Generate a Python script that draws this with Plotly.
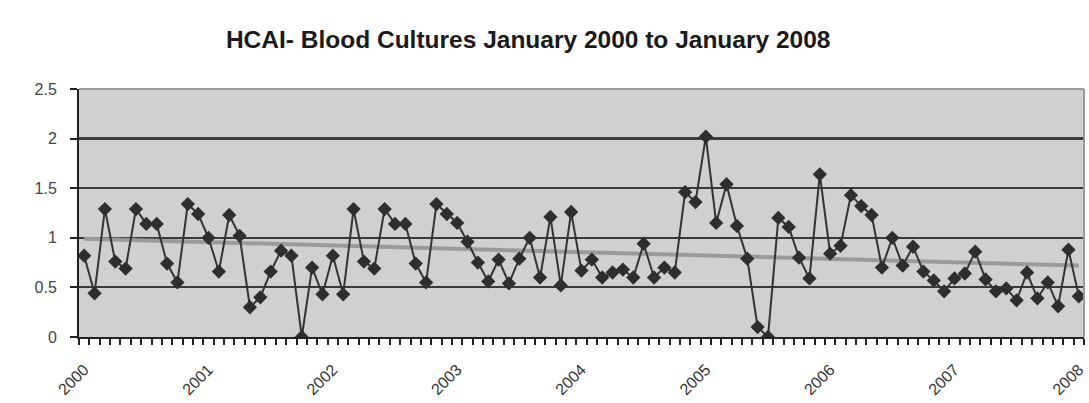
import plotly.graph_objects as go

# Monthly rate, January 2000 to January 2008 (97 months)
years = ["2000", "2001", "2002", "2003", "2004", "2005", "2006", "2007", "2008"]
rate = [
    0.82, 0.44, 1.29, 0.76, 0.69, 1.29, 1.14, 1.14, 0.74, 0.55, 1.34, 1.24,   # 2000
    1.00, 0.66, 1.23, 1.02, 0.30, 0.40, 0.66, 0.87, 0.82, 0.00, 0.70, 0.43,   # 2001
    0.82, 0.43, 1.29, 0.76, 0.69, 1.29, 1.14, 1.14, 0.74, 0.55, 1.34, 1.24,   # 2002
    1.15, 0.96, 0.75, 0.56, 0.78, 0.54, 0.79, 1.00, 0.60, 1.21, 0.52, 1.26,   # 2003
    0.67, 0.78, 0.60, 0.65, 0.68, 0.60, 0.94, 0.60, 0.70, 0.65, 1.46, 1.36,   # 2004
    2.02, 1.15, 1.54, 1.12, 0.79, 0.10, 0.00, 1.20, 1.11, 0.80, 0.59, 1.64,   # 2005
    0.84, 0.92, 1.43, 1.32, 1.23, 0.70, 1.00, 0.72, 0.91, 0.66, 0.57, 0.46,   # 2006
    0.59, 0.64, 0.86, 0.58, 0.46, 0.49, 0.37, 0.65, 0.39, 0.55, 0.31, 0.88,   # 2007
    0.41,                                                                     # 2008
]

# Linear trend, first and last month
trend_ends = [0.99, 0.72]

idx = list(range(len(rate)))

fig = go.Figure()
fig.add_trace(go.Scatter(
    x=[idx[0], idx[-1]], y=trend_ends, mode="lines",
    line=dict(color="#9a9a9a", width=4),
    hoverinfo="skip", showlegend=False,
))
fig.add_trace(go.Scatter(
    x=idx, y=rate, mode="lines+markers",
    line=dict(color="#333333", width=2),
    marker=dict(symbol="diamond", size=11, color="#2e2e2e"),
    showlegend=False,
))

# Heavier reference line at 2.0
fig.add_shape(type="line", xref="paper", x0=0, x1=1, yref="y", y0=2, y1=2,
              line=dict(color="#111111", width=2.5), layer="below")

fig.update_layout(
    width=1089, height=403,
    margin=dict(l=79, r=5, t=89, b=66),
    paper_bgcolor="white",
    plot_bgcolor="#d0d0d0",
    font=dict(family="Liberation Sans, Arial, sans-serif", color="#333333"),
    title=dict(
        text="<b>HCAI- Blood Cultures January 2000 to January 2008</b>",
        x=0.485, xref="container", xanchor="center",
        y=1 - 39 / 403, yref="container", yanchor="middle",
        font=dict(size=24.5, color="#1a1a1a"),
    ),
    xaxis=dict(
        range=[-0.5, len(rate) - 0.5],
        tickmode="array",
        tickvals=[12 * i for i in range(len(years))],
        ticktext=years,
        tickangle=-45,
        ticks="",
        ticklabelstandoff=15,
        tickfont=dict(size=16, color="#333333"),
        showgrid=False, zeroline=False,
        showline=True, linecolor="#222222", linewidth=2,
        automargin=False,
        minor=dict(tick0=-0.5, dtick=1, ticks="outside", ticklen=6,
                   tickcolor="#222222", tickwidth=1.5, showgrid=False),
    ),
    yaxis=dict(
        range=[0, 2.5],
        tickvals=[0, 0.5, 1, 1.5, 2, 2.5],
        ticktext=["0", "0.5", "1", "1.5", "2", "2.5"],
        ticks="outside", ticklen=7, tickcolor="#222222", tickwidth=1.5,
        ticklabelstandoff=10,
        tickfont=dict(size=16, color="#444444"),
        showgrid=True, gridcolor="#3a3a3a", gridwidth=1.5,
        zeroline=False,
        showline=True, linecolor="#222222", linewidth=2,
        automargin=False,
    ),
)

# Light frame along the top and right of the plotting area
fig.add_shape(type="line", xref="paper", yref="paper", x0=0, x1=1, y0=1, y1=1,
              line=dict(color="#9a9a9a", width=2))
fig.add_shape(type="line", xref="paper", yref="paper", x0=1, x1=1, y0=0, y1=1,
              line=dict(color="#9a9a9a", width=2))

fig.write_html("out.html")
